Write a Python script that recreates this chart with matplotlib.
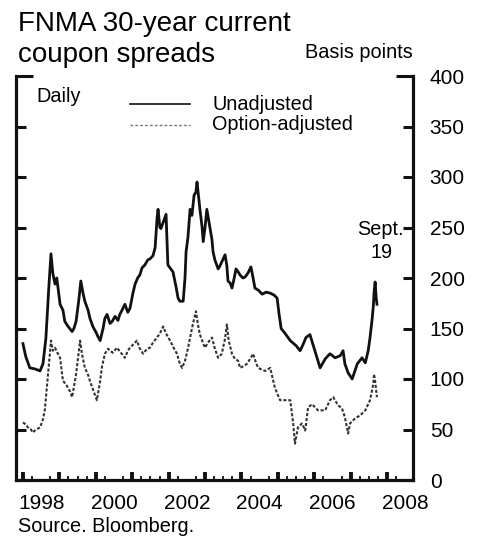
import matplotlib
matplotlib.use("Agg")
import matplotlib.pyplot as plt
from matplotlib.lines import Line2D
from matplotlib.ticker import FixedLocator

plt.rcParams['font.family'] = ['Liberation Sans', 'DejaVu Sans']

# ---------------- data ----------------
years_u = [1998.00, 1998.08, 1998.19, 1998.33, 1998.47, 1998.55, 1998.63, 1998.71,
           1998.77, 1998.82, 1998.88, 1998.93, 1999.02, 1999.10, 1999.15, 1999.24,
           1999.35, 1999.40, 1999.46, 1999.54, 1999.59, 1999.65, 1999.70, 1999.79,
           1999.84, 1999.92, 2000.01, 2000.06, 2000.12, 2000.20, 2000.25, 2000.31,
           2000.39, 2000.45, 2000.53, 2000.61, 2000.66, 2000.72, 2000.80, 2000.88,
           2000.94, 2001.02, 2001.08, 2001.15, 2001.21, 2001.27, 2001.35, 2001.43,
           2001.49, 2001.57, 2001.63, 2001.68, 2001.71, 2001.76, 2001.79, 2001.85,
           2001.93, 2001.98, 2002.04, 2002.12, 2002.20, 2002.26, 2002.31, 2002.40,
           2002.45, 2002.48, 2002.53, 2002.59, 2002.64, 2002.70, 2002.75, 2002.78,
           2002.84, 2002.86, 2002.92, 2002.95, 2003.00, 2003.05, 2003.11, 2003.14,
           2003.19, 2003.22, 2003.27, 2003.36, 2003.41, 2003.46, 2003.55, 2003.60,
           2003.63, 2003.69, 2003.74, 2003.79, 2003.85, 2003.91, 2003.96, 2004.04,
           2004.10, 2004.18, 2004.26, 2004.32, 2004.37, 2004.46, 2004.57, 2004.68,
           2004.79, 2004.90, 2004.98, 2005.03, 2005.09, 2005.20, 2005.34, 2005.50,
           2005.61, 2005.69, 2005.77, 2005.88, 2005.99, 2006.10, 2006.16, 2006.30,
           2006.43, 2006.57, 2006.71, 2006.79, 2006.84, 2006.93, 2007.04, 2007.18,
           2007.31, 2007.40, 2007.48, 2007.53, 2007.59, 2007.62, 2007.64, 2007.67,
           2007.70, 2007.72]
unadjusted = [135, 122, 111, 110, 108, 115, 140, 190,
              224, 205, 194, 200, 174, 168, 157, 152,
              147, 150, 157, 180, 197, 185, 177, 168,
              160, 152, 146, 142, 138, 150, 160, 164,
              155, 157, 162, 158, 164, 168, 174, 166,
              170, 185, 194, 200, 203, 210, 213, 218,
              219, 222, 230, 258, 268, 250, 249, 255,
              263, 213, 210, 206, 192, 180, 177, 177,
              200, 226, 240, 268, 262, 282, 285, 295,
              275, 268, 250, 236, 250, 268, 255, 249,
              238, 226, 218, 209, 212, 216, 223, 212,
              197, 195, 190, 198, 209, 206, 203, 200,
              201, 205, 211, 200, 190, 188, 184, 186,
              185, 183, 180, 165, 150, 145, 138, 133,
              128, 134, 141, 144, 131, 118, 111, 120,
              125, 121, 123, 128, 115, 106, 100, 115,
              121, 116, 128, 141, 160, 172, 185, 196,
              180, 174]

years_o = [1998.00, 1998.08, 1998.14, 1998.22, 1998.27, 1998.36, 1998.47, 1998.55,
           1998.60, 1998.69, 1998.74, 1998.77, 1998.82, 1998.88, 1998.96, 1999.02,
           1999.10, 1999.18, 1999.24, 1999.29, 1999.35, 1999.40, 1999.46, 1999.51,
           1999.57, 1999.62, 1999.70, 1999.79, 1999.84, 1999.92, 1999.98, 2000.03,
           2000.12, 2000.17, 2000.25, 2000.34, 2000.39, 2000.47, 2000.58, 2000.69,
           2000.80, 2000.88, 2000.94, 2001.05, 2001.13, 2001.21, 2001.30, 2001.41,
           2001.49, 2001.57, 2001.68, 2001.76, 2001.85, 2001.93, 2002.04, 2002.15,
           2002.23, 2002.31, 2002.37, 2002.45, 2002.53, 2002.59, 2002.67, 2002.75,
           2002.80, 2002.86, 2002.95, 2003.00, 2003.08, 2003.19, 2003.27, 2003.36,
           2003.46, 2003.55, 2003.60, 2003.65, 2003.74, 2003.82, 2003.91, 2003.96,
           2004.07, 2004.15, 2004.24, 2004.32, 2004.40, 2004.46, 2004.57, 2004.65,
           2004.79, 2004.92, 2005.06, 2005.20, 2005.34, 2005.42, 2005.47, 2005.55,
           2005.66, 2005.75, 2005.83, 2005.94, 2006.10, 2006.30, 2006.43, 2006.52,
           2006.65, 2006.76, 2006.84, 2006.93, 2006.98, 2007.12, 2007.26, 2007.40,
           2007.53, 2007.62, 2007.64, 2007.67, 2007.72]
option_adjusted = [57, 55, 52, 50, 47, 50, 52, 60,
                   69, 105, 125, 138, 128, 131, 125, 121,
                   98, 95, 91, 88, 82, 92, 105, 120,
                   138, 125, 111, 104, 98, 90, 84, 79,
                   98, 112, 125, 130, 128, 126, 131, 126,
                   121, 128, 131, 135, 138, 130, 125, 130,
                   131, 136, 141, 145, 152, 145, 138, 130,
                   125, 115, 111, 118, 130, 141, 155, 167,
                   155, 144, 135, 131, 136, 141, 130, 121,
                   125, 140, 154, 138, 125, 120, 118, 111,
                   113, 115, 120, 125, 116, 111, 109, 108,
                   111, 91, 79, 79, 79, 56, 36, 52,
                   56, 49, 72, 75, 69, 69, 79, 82,
                   74, 71, 62, 46, 56, 61, 64, 69,
                   79, 95, 105, 98, 82]

year_labels = ['1998', '2000', '2002', '2004', '2006', '2008']
year_ticks = list(range(1998, 2009))
y_ticks = [0, 50, 100, 150, 200, 250, 300, 350, 400]

# ---------------- figure ----------------
W, H = 480, 541
fig = plt.figure(figsize=(W / 100, H / 100), dpi=100)
ax = fig.add_axes([16 / W, 1 - 480 / H, 397 / W, 404 / H])

line_u, = ax.plot(years_u, unadjusted, color='#111111', lw=2.0)
line_o, = ax.plot(years_o, option_adjusted, color='#333333', lw=1.5, ls=(0, (1.5, 0.9)))

ax.set_xlim(1997.81, 2008.71)
ax.set_ylim(0, 400)

ax.spines['top'].set_visible(False)
for s in ['left', 'right', 'bottom']:
    ax.spines[s].set_linewidth(2.3)
    ax.spines[s].set_color('#111111')

# y axis: ticks on both sides, inward, labels on the right
ax.set_yticks(y_ticks)
ax.yaxis.set_ticks_position('both')
ax.tick_params(axis='y', which='major', direction='in', length=7, width=2.2,
               labelleft=False, labelright=True, labelsize=15, pad=12,
               color='#111111')
top_tick = ax.yaxis.get_major_ticks()[-1]
top_tick.tick1line.set_markersize(12)
top_tick.tick2line.set_markersize(12)

# x axis: labels centred on the year, ticks at year starts and quarters
ax.set_xticks([int(l) + 0.5 for l in year_labels], year_labels)
ax.tick_params(axis='x', which='major', length=0, labelsize=15, pad=10)
ax.xaxis.set_minor_locator(FixedLocator([y + q / 4 for y in year_ticks for q in (1, 2, 3)]))
ax.tick_params(axis='x', which='minor', direction='in', length=3.2, width=1.4,
               color='#222222')
sec = ax.secondary_xaxis('bottom')
sec.set_xticks(year_ticks)
sec.tick_params(direction='in', length=5.5, width=2.8, labelbottom=False,
                color='#111111')
sec.spines['bottom'].set_visible(False)


def fx(x):
    return x / W


def fy(y):
    return 1 - y / H


# titles and annotations
fig.text(fx(18), fy(31), 'FNMA 30-year current', fontsize=20, va='baseline')
fig.text(fx(18), fy(62), 'coupon spreads', fontsize=20, va='baseline')
fig.text(fx(413), fy(58), 'Basis points', fontsize=14.3, ha='right', va='baseline')
fig.text(fx(36), fy(102), 'Daily', fontsize=14.3, va='baseline')

# legend
fig.add_artist(Line2D([fx(130), fx(190)], [fy(104), fy(104)], color='#111111', lw=1.2))
fig.add_artist(Line2D([fx(130), fx(190)], [fy(125), fy(125)], color='#777777', lw=1.0,
                      ls=(0, (2, 1.5))))
fig.text(fx(212), fy(110), 'Unadjusted', fontsize=14.3, va='baseline')
fig.text(fx(212), fy(130), 'Option-adjusted', fontsize=14.3, va='baseline')

fig.text(fx(380), fy(235), 'Sept.', fontsize=14.3, ha='center', va='baseline')
fig.text(fx(382), fy(258), '19', fontsize=14.3, ha='center', va='baseline')

fig.text(fx(18), fy(532), 'Source. Bloomberg.', fontsize=14.3, va='baseline')

fig.savefig('out.png', dpi=100)
